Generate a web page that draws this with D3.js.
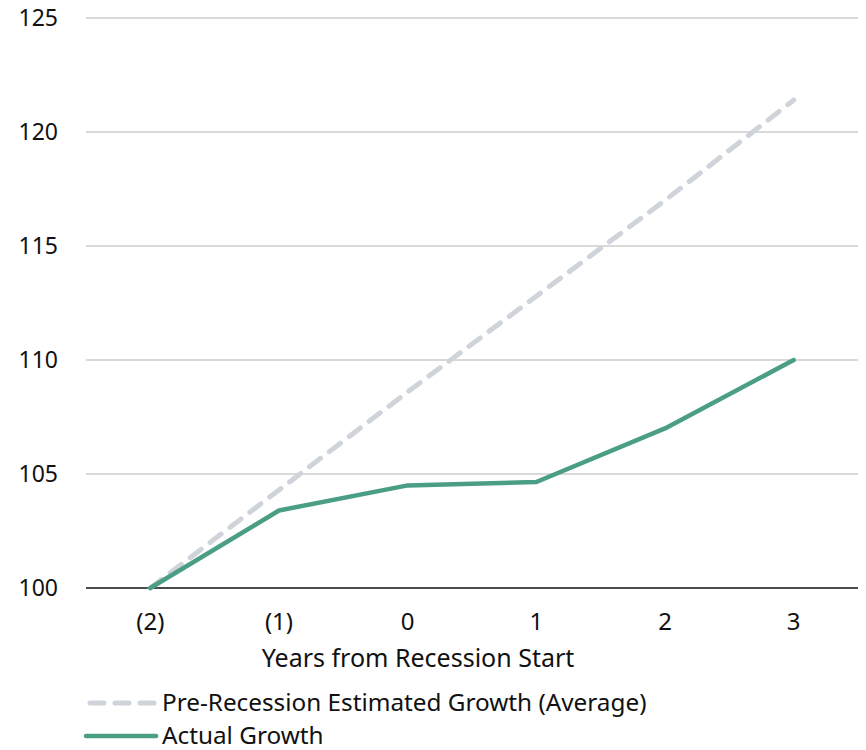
<!DOCTYPE html>
<html>
<head>
<meta charset="utf-8">
<script src="https://cdn.jsdelivr.net/npm/d3@7"></script>
<style>
  body { margin: 0; background: #fff; }
  text { font-family: "Noto Sans", sans-serif; fill: #111; }
</style>
</head>
<body>
<div id="chart"></div>
<script>
const years = ["(2)", "(1)", "0", "1", "2", "3"];
const preRecession = [100, 104.3, 108.6, 112.8, 117.0, 121.4];
const actual = [100, 103.4, 104.5, 104.65, 107.0, 110.0];
const yTicks = [100, 105, 110, 115, 120, 125];

const width = 866, height = 750;
const margin = { left: 86, right: 8, top: 18, bottom: 162 };

const svg = d3.select("#chart").append("svg")
    .attr("width", width)
    .attr("height", height);

const x = d3.scalePoint()
    .domain(years)
    .range([margin.left, width - margin.right])
    .padding(0.5);

const y = d3.scaleLinear()
    .domain([100, 125])
    .range([height - margin.bottom, margin.top]);

// gridlines
svg.append("g")
    .selectAll("line")
    .data(yTicks.filter(d => d !== 100))
    .enter().append("line")
    .attr("x1", margin.left)
    .attr("x2", width - margin.right)
    .attr("y1", d => y(d))
    .attr("y2", d => y(d))
    .attr("stroke", "#d9d9d9")
    .attr("stroke-width", 2);

// y labels
svg.append("g")
    .selectAll("text")
    .data(yTicks)
    .enter().append("text")
    .attr("x", 58)
    .attr("y", d => y(d))
    .attr("dy", "0.36em")
    .attr("text-anchor", "end")
    .attr("font-size", 23)
    .text(d => d);

// baseline
svg.append("line")
    .attr("x1", margin.left)
    .attr("x2", width - margin.right)
    .attr("y1", y(100))
    .attr("y2", y(100))
    .attr("stroke", "#111")
    .attr("stroke-width", 1.5);

// x labels
svg.append("g")
    .selectAll("text")
    .data(years)
    .enter().append("text")
    .attr("x", d => x(d))
    .attr("y", 630)
    .attr("text-anchor", "middle")
    .attr("font-size", 24)
    .text(d => d);

svg.append("text")
    .attr("x", 418)
    .attr("y", 667)
    .attr("text-anchor", "middle")
    .attr("font-size", 25)
    .text("Years from Recession Start");

const line = d3.line()
    .x((d, i) => x(years[i]))
    .y(d => y(d));

svg.append("path")
    .datum(preRecession)
    .attr("fill", "none")
    .attr("stroke", "#cfd3da")
    .attr("stroke-width", 5)
    .attr("stroke-linecap", "round")
    .attr("stroke-dasharray", "14 11")
    .attr("d", line);

svg.append("path")
    .datum(actual)
    .attr("fill", "none")
    .attr("stroke", "#4a9e85")
    .attr("stroke-width", 4.5)
    .attr("stroke-linecap", "round")
    .attr("stroke-linejoin", "round")
    .attr("d", line);

// legend
const legend = [
    { name: "Pre-Recession Estimated Growth (Average)", color: "#cfd3da", dash: "14 11", y: 703 },
    { name: "Actual Growth", color: "#4a9e85", dash: null, y: 736 }
];

const lg = svg.append("g").selectAll("g")
    .data(legend)
    .enter().append("g");

lg.append("line")
    .attr("x1", d => d.dash ? 90 : 86)
    .attr("x2", 156)
    .attr("y1", d => d.y)
    .attr("y2", d => d.y)
    .attr("stroke", d => d.color)
    .attr("stroke-width", d => d.dash ? 5 : 4.5)
    .attr("stroke-linecap", "round")
    .attr("stroke-dasharray", d => d.dash);

lg.append("text")
    .attr("x", 162)
    .attr("y", d => d.y + 8)
    .attr("font-size", 24.3)
    .text(d => d.name);
</script>
</body>
</html>
